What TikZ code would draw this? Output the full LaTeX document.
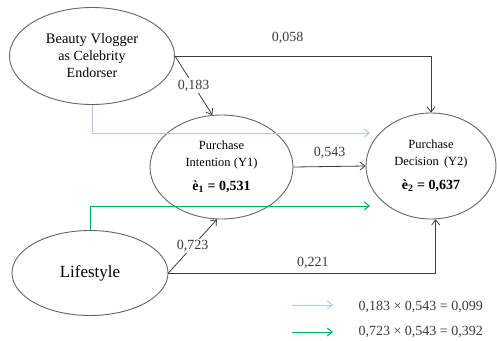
\documentclass[tikz,border=0pt]{standalone}
\usepackage{fontspec}
\setmainfont{Liberation Serif}
\usetikzlibrary{arrows.meta,positioning,shapes.geometric}
\definecolor{lineblk}{RGB}{60,60,60}
\definecolor{ovalgray}{RGB}{100,100,100}
\definecolor{palblue}{RGB}{170,198,234}
\definecolor{pathgreen}{RGB}{0,176,80}
\begin{document}
\begin{tikzpicture}[x=1pt,y=-1pt,every node/.style={font=\fontsize{14}{17}\selectfont},
 lat/.style={draw=ovalgray,line width=0.9pt,ellipse,inner sep=0pt,align=center},
 arr/.style={-{Straight Barb[length=5pt,width=8pt]},draw=lineblk,line width=0.8pt},
 blu/.style={arr,draw=palblue,line width=1pt},
 grn/.style={arr,draw=pathgreen,line width=1pt},
 lbl/.style={fill=white,inner sep=1.5pt,text=lineblk}]
\useasboundingbox (0,0) rectangle (497,340);
\node[lat,minimum width=165,minimum height=97] (bv) at (92,56)
 {\fontsize{14.5}{18}\selectfont Beauty Vlogger\\ as Celebrity\\ Endorser};
\node[lat,minimum width=156,minimum height=85] (ls) at (90,273)
 {\fontsize{17}{20}\selectfont Lifestyle};
\node[lat,minimum width=143,minimum height=104] (pi) at (221.5,167)
 {\fontsize{12.5}{16}\selectfont Purchase\\ \fontsize{12.5}{16}\selectfont Intention (Y1)\\[7pt]
  \fontsize{14}{16}\selectfont\bfseries è\textsubscript{1} = 0,531};
\node[lat,minimum width=130,minimum height=106] (pd) at (431,166)
 {\fontsize{12.5}{16}\selectfont Purchase\\ \fontsize{12.5}{16}\selectfont Decision\, (Y2)\\[7pt]
  \fontsize{14}{16}\selectfont\bfseries è\textsubscript{2} = 0,637};
\coordinate (b1) at (370,133);
\coordinate (g1) at (370,206);
% indirect paths
\draw[blu] (bv.south) |- (b1);
\draw[grn] (ls.north) |- (g1);
% direct paths
\draw[arr] (bv.east) -| node[pos=.22,above=9pt,text=lineblk] {0,058} (pd.north);
\draw[arr] (bv.east) -- node[lbl] {0,183} (pi.100);
\draw[arr] (pi.east) -- node[above=4pt,text=lineblk] {0,543} (pd.west);
\draw[arr] (ls.east) -- node[lbl] {0,723} (pi.265);
\draw[arr] (ls.east) -| node[pos=.27,above=1pt,text=lineblk] {0,221} (pd.275);
% legend
\coordinate (k1) at (292,305);
\coordinate (k2) at (292,332);
\draw[blu] (k1) -- ++(41,0);
\draw[grn] (k2) -- ++(41,0);
\node[anchor=west,text=lineblk] (t1) at (355,307) {0,183 × 0,543 = 0,099};
\node[anchor=west,text=lineblk] (t2) at (355,332) {0,723 × 0,543 = 0,392};
\end{tikzpicture}
\end{document}
